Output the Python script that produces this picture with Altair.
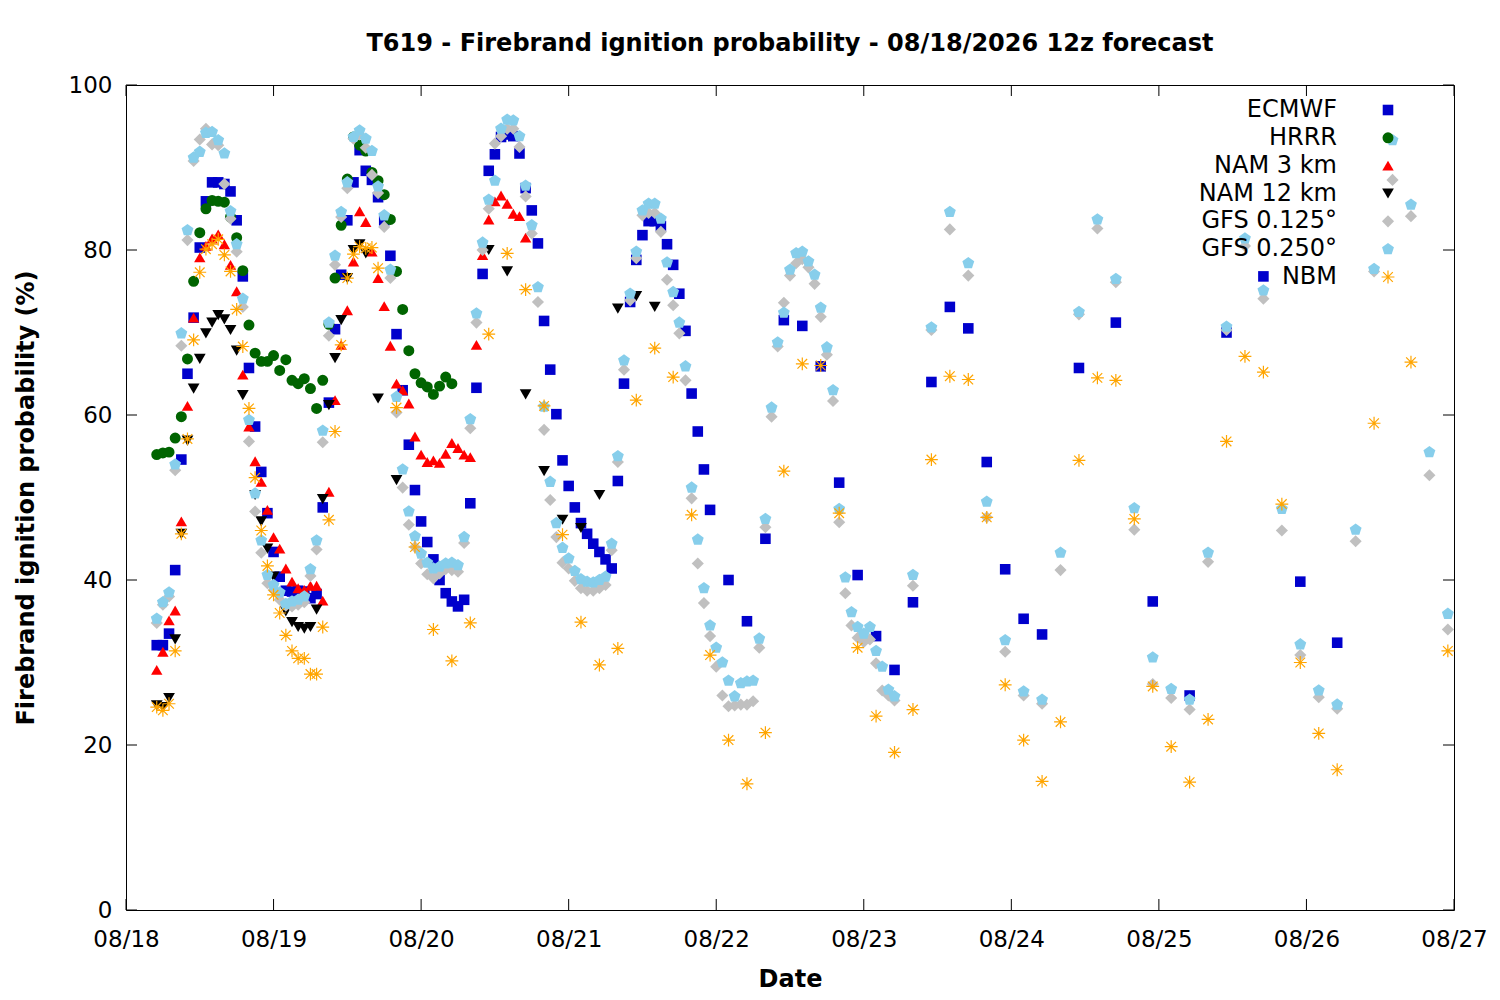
import altair as alt
import pandas as pd

MODELS = ["ECMWF", "HRRR", "NAM 3 km", "NAM 12 km", "GFS 0.125°", "GFS 0.250°", "NBM"]
COLORS = ["#0000CC", "#006400", "#FF0000", "#000000", "#C0C0C0", "#87CEEB", "#FFA500"]

# ---- data (hours after 08/18 00:00 local, probability %) ----
ecmwf_hours = list(range(5, 96)) + list(range(98, 150, 3)) + list(range(155, 198, 6))
ecmwf_vals = [
    32.1, 32.1, 33.5, 41.2, 54.6, 65.0, 71.8, 80.3, 85.9, 88.2,
    88.2, 88.0, 87.1, 83.6, 76.8, 65.7, 58.6, 53.1, 48.1, 43.4,
    40.4, 38.7, 38.6, 38.7, 38.6, 37.8, 38.3, 48.8, 61.5, 70.4,
    77.0, 83.6, 88.2, 92.1, 89.6, 88.5, 86.4, 83.6, 79.3, 69.8,
    63.0, 56.4, 50.9, 47.1, 44.6, 42.5, 40.0, 38.4, 37.4, 36.8,
    37.6, 49.3, 63.3, 77.1, 89.6, 91.6, 93.7, 94.0, 93.8, 91.7,
    87.5, 84.8, 80.8, 71.4, 65.5, 60.1, 54.5, 51.4, 48.8, 46.9,
    45.6, 44.4, 43.4, 42.5, 41.4, 52.0, 63.8, 73.7, 78.8, 81.8,
    83.5, 83.5, 82.9, 80.7, 78.2, 74.7, 70.2, 62.6, 58.0, 53.4,
    48.5,
    40.0, 35.0, 45.0, 71.5, 70.8, 65.9, 51.8, 40.6, 33.2, 29.1,
    37.3, 64.0, 73.1, 70.5, 54.3, 41.3, 35.3, 33.4,
    65.7, 71.2, 37.4, 26.0, 70.0, 76.8, 39.8, 32.4,
]

hrrr_hours = list(range(5, 54))
hrrr_vals = [
    55.2, 55.4, 55.5, 57.2, 59.8, 66.8, 76.2, 82.1, 85.0, 86.0,
    85.9, 85.8, 84.0, 81.5, 77.5, 70.9, 67.5, 66.5, 66.5, 67.2,
    65.4, 66.7, 64.2, 63.8, 64.4, 63.2, 60.8, 64.2, 71.0, 76.6,
    83.0, 88.6, 93.7, 92.7, 92.0, 89.4, 88.4, 86.7, 83.7, 77.4,
    72.8, 67.8, 65.0, 63.9, 63.4, 62.5, 63.5, 64.6, 63.8,
]

nam3_hours = list(range(5, 66))
nam3_vals = [
    29.1, 31.3, 35.1, 36.3, 47.1, 61.1, 71.8, 79.1, 80.5, 81.4,
    81.9, 80.7, 78.2, 75.0, 64.9, 58.6, 54.4, 51.9, 48.5, 45.2,
    43.8, 41.4, 39.8, 39.0, 38.8, 39.3, 39.3, 37.5, 50.7, 61.8,
    68.5, 72.7, 78.6, 84.7, 83.4, 79.8, 76.6, 73.2, 68.4, 63.8,
    63.0, 61.4, 57.4, 55.2, 54.3, 54.5, 54.2, 55.3, 56.6, 56.0,
    55.2, 54.9, 68.5, 79.4, 83.7, 85.9, 86.6, 85.6, 84.4, 84.1,
    81.5,
]

nam12_hours = [5, 6, 7, 8, 9, 10, 11, 12, 13, 14, 15, 16, 17, 18, 19,
               21, 22, 23, 24, 26, 27, 28, 29, 30, 31, 32, 33, 34, 35,
               36, 37, 38, 39, 41, 44, 59, 62, 65, 68, 71, 74, 77, 80, 83, 86]
nam12_vals = [24.8, 24.6, 25.7, 32.8, 45.6, 56.9, 63.2, 66.8, 69.9, 71.2,
              72.1, 71.6, 70.3, 67.8, 62.4,
              50.3, 47.1, 43.8, 40.4, 36.2, 34.9, 34.3, 34.1, 34.3, 36.4,
              49.8, 61.2, 66.9, 71.5, 76.6, 80.0, 80.7, 79.6, 62.0, 52.1,
              80.0, 77.4, 62.5, 53.2, 47.3, 46.3, 50.3, 72.9, 74.4, 73.1]

gfs_hours = list(range(5, 126)) + list(range(128, 216, 3))
gfs125_vals = [
    34.8, 37.0, 38.0, 53.3, 68.4, 81.2, 90.8, 93.4, 94.7, 92.8,
    92.7, 88.0, 83.8, 79.8, 73.1, 56.8, 48.3, 43.3, 39.6, 38.8,
    37.6, 36.9, 36.8, 37.0, 37.3, 40.5, 43.7, 56.7, 69.6, 78.2,
    84.0, 87.5, 93.5, 94.0, 92.4, 89.1, 86.9, 82.8, 76.6, 60.3,
    51.2, 46.7, 44.0, 42.0, 40.7, 40.2, 40.8, 41.3, 41.2, 41.0,
    44.5, 58.4, 71.2, 80.0, 85.0, 92.9, 93.8, 94.7, 94.7, 92.5,
    86.5, 82.0, 73.7, 58.2, 49.7, 45.2, 42.1, 41.4, 39.9, 39.0,
    38.7, 38.7, 39.0, 39.4, 43.6, 54.3, 65.5, 73.9, 79.0, 84.2,
    84.5, 84.5, 82.2, 76.4, 73.3, 69.9, 64.2, 49.9, 42.0, 37.2,
    33.2, 29.5, 26.0, 24.7, 24.8, 24.9, 24.9, 25.3, 31.8, 46.4,
    59.8, 68.3, 73.6, 76.9, 78.4, 78.9, 77.9, 75.9, 71.9, 67.3,
    61.7, 47.0, 38.4, 34.5, 33.0, 32.5, 32.8, 29.9, 26.6, 26.0,
    25.4,
    39.3, 70.3, 82.5, 76.9, 47.6, 31.3, 26.0, 25.0, 41.2, 72.2,
    82.6, 76.1, 46.1, 27.4, 25.7, 24.3, 42.2, 70.3, 80.5, 74.1,
    46.0, 30.9, 25.8, 24.4, 44.7, 77.4, 88.5, 84.1, 52.7, 34.0,
]
gfs250_vals = [
    35.3, 37.3, 38.5, 54.0, 69.9, 82.4, 91.2, 91.9, 94.2, 94.3,
    93.3, 91.7, 84.7, 80.7, 74.1, 59.4, 50.5, 44.8, 40.6, 39.4,
    38.5, 37.1, 37.4, 37.6, 38.0, 41.3, 44.8, 58.1, 71.2, 79.3,
    84.6, 88.2, 93.7, 94.5, 93.5, 92.0, 87.7, 84.2, 77.6, 62.2,
    53.4, 48.3, 45.3, 43.2, 42.1, 41.4, 41.6, 42.0, 42.1, 41.8,
    45.2, 59.5, 72.3, 80.9, 86.1, 88.4, 94.7, 95.8, 95.7, 93.8,
    87.8, 83.0, 75.5, 61.0, 51.9, 46.9, 43.9, 42.6, 41.1, 40.1,
    39.8, 39.7, 40.0, 40.4, 44.4, 55.0, 66.6, 74.7, 79.8, 84.8,
    85.6, 85.6, 83.8, 78.5, 74.9, 71.2, 65.9, 51.2, 44.9, 39.0,
    34.5, 31.8, 30.0, 27.8, 25.9, 27.5, 27.7, 27.8, 32.9, 47.4,
    60.9, 68.8, 72.4, 77.6, 79.6, 79.8, 78.6, 77.0, 73.0, 68.2,
    63.0, 48.6, 40.3, 36.1, 34.3, 33.5, 34.3, 31.4, 29.5, 26.7,
    25.9,
    40.6, 70.6, 84.6, 78.4, 49.5, 32.7, 26.5, 25.5, 43.3, 72.5,
    83.7, 76.5, 48.7, 30.6, 26.8, 25.5, 43.3, 70.7, 81.4, 75.1,
    48.6, 32.2, 26.6, 24.9, 46.1, 77.7, 93.3, 85.5, 55.5, 35.9,
]

nbm_hours = list(range(5, 42)) + list(range(44, 198, 3)) + [203, 209, 215]
nbm_vals = [
    24.6, 24.2, 25.0, 31.4, 45.6, 57.1, 69.1, 77.3, 80.1, 80.7,
    81.3, 79.4, 77.4, 72.8, 68.3, 60.8, 52.4, 46.0, 41.7, 38.2,
    36.0, 33.3, 31.4, 30.5, 30.5, 28.6, 28.6, 34.3, 47.3, 58.0,
    68.5, 76.6, 79.5, 80.4, 80.2, 80.3, 77.8,
    60.9, 44.0, 34.0, 30.2, 34.8, 69.8, 79.6, 75.2, 61.1, 45.5,
    34.9, 29.7, 31.7, 61.8, 68.1, 64.6, 47.9, 30.9, 20.6, 15.3,
    21.5, 53.2, 66.2, 66.0, 48.1, 31.8, 23.5, 19.1, 24.3, 54.6,
    64.7, 64.3, 47.6, 27.3, 20.6, 15.6, 22.8, 54.5, 64.5, 64.2,
    47.4, 27.1, 19.8, 15.5, 23.1, 56.8, 67.1, 65.2, 49.2, 30.0,
    21.4, 17.0,
    59.0, 66.4, 31.4,
]

Y_TICKS = [0, 20, 40, 60, 80, 100]
X_TICK_DAYS = list(range(18, 28))

# ---- build table ----
base = pd.Timestamp("2026-08-18 00:00")


def make(name, hours, vals):
    assert len(hours) == len(vals), (name, len(hours), len(vals))
    return pd.DataFrame({
        "time": [(base + pd.Timedelta(hours=h)).strftime("%Y-%m-%dT%H:%M:%S") for h in hours],
        "prob": vals,
        "model": name,
    })


df_filled = pd.concat([
    make("ECMWF", ecmwf_hours, ecmwf_vals),
    make("HRRR", hrrr_hours, hrrr_vals),
    make("NAM 3 km", nam3_hours, nam3_vals),
    make("NAM 12 km", nam12_hours, nam12_vals),
    make("GFS 0.125°", gfs_hours, gfs125_vals),
    make("GFS 0.250°", gfs_hours, gfs250_vals),
], ignore_index=True)
df_nbm = make("NBM", nbm_hours, nbm_vals)

key_filled_df = pd.DataFrame({"model": MODELS[:-1]})
key_nbm_df = pd.DataFrame({"model": MODELS[-1:]})
key_all_df = pd.DataFrame({"model": MODELS})

# ---- marker shapes ----
pentagon = "M0,-1L0.951,-0.309L0.588,0.809L-0.588,0.809L-0.951,-0.309Z"
asterisk = ("M0,-1L0,1M-1,0L1,0M-0.75,-0.75L0.75,0.75M-0.75,0.75L0.75,-0.75")
SHAPES = ["square", "circle", "triangle-up", "triangle-down", "diamond", pentagon, asterisk]
SIZES = [112, 165, 175, 175, 140, 190, 180]

W, H = 1328, 825
FONT = "DejaVu Sans"
TICK = 11

x_scale = alt.Scale(domain=[alt.DateTime(year=2026, month=8, date=18),
                            alt.DateTime(year=2026, month=8, date=27)], nice=False)
y_scale = alt.Scale(domain=[0, 100], nice=False)

x_axis = alt.Axis(values=[alt.DateTime(year=2026, month=8, date=d) for d in X_TICK_DAYS],
                  format="%m/%d", title="Date", labelPadding=18, titlePadding=16,
                  labelFlush=False, labelOverlap=False)
y_axis = alt.Axis(values=Y_TICKS, title="Firebrand ignition probability (%)",
                  labelPadding=14, titlePadding=30)

color_enc = alt.Color("model:N", scale=alt.Scale(domain=MODELS, range=COLORS), legend=None)
shape_enc = alt.Shape("model:N", scale=alt.Scale(domain=MODELS, range=SHAPES), legend=None)
size_enc = alt.Size("model:N", scale=alt.Scale(domain=MODELS, range=SIZES), legend=None)

points = alt.Chart(df_filled).mark_point(filled=True, opacity=1, strokeWidth=0).encode(
    x=alt.X("time:T", scale=x_scale, axis=x_axis),
    y=alt.Y("prob:Q", scale=y_scale, axis=y_axis),
    color=color_enc, shape=shape_enc, size=size_enc,
)
nbm_points = alt.Chart(df_nbm).mark_point(filled=False, opacity=1, strokeWidth=1.2).encode(
    x=alt.X("time:T", scale=x_scale, axis=x_axis),
    y=alt.Y("prob:Q", scale=y_scale, axis=None),
    color=color_enc, shape=shape_enc, size=size_enc,
)

ytick_df = pd.DataFrame({"v": Y_TICKS})
xtick_df = pd.DataFrame({"d": [f"2026-08-{d:02d}T00:00:00" for d in X_TICK_DAYS]})

left_ticks = alt.Chart(ytick_df).mark_rule(color="black", strokeWidth=1).encode(
    y=alt.Y("v:Q", scale=y_scale, axis=None), x=alt.value(0), x2=alt.value(TICK))
right_ticks = alt.Chart(ytick_df).mark_rule(color="black", strokeWidth=1).encode(
    y=alt.Y("v:Q", scale=y_scale, axis=None), x=alt.value(W - TICK), x2=alt.value(W))
bottom_ticks = alt.Chart(xtick_df).mark_rule(color="black", strokeWidth=1).encode(
    x=alt.X("d:T", scale=x_scale, axis=x_axis), y=alt.value(H - TICK), y2=alt.value(H))
top_ticks = alt.Chart(xtick_df).mark_rule(color="black", strokeWidth=1).encode(
    x=alt.X("d:T", scale=x_scale, axis=x_axis), y=alt.value(0), y2=alt.value(TICK))

# ---- key (gnuplot style: label right-aligned, sample to the right) ----
key_y = alt.Y("model:N", scale=alt.Scale(domain=MODELS, range=[25, 192], padding=0), axis=None)
key_symbols = alt.Chart(key_filled_df).mark_point(filled=True, opacity=1, strokeWidth=0).encode(
    x=alt.value(1262), y=key_y, color=color_enc, shape=shape_enc, size=size_enc,
)
key_nbm = alt.Chart(key_nbm_df).mark_point(filled=False, opacity=1, strokeWidth=1.2).encode(
    x=alt.value(1262), y=key_y, color=color_enc, shape=shape_enc, size=size_enc,
)
key_labels = alt.Chart(key_all_df).mark_text(
    align="right", baseline="middle", font=FONT, fontSize=24, color="black"
).encode(x=alt.value(1211), y=key_y, text="model:N")

chart = alt.layer(
    points, nbm_points, left_ticks, right_ticks, bottom_ticks, top_ticks,
    key_symbols, key_nbm, key_labels
).resolve_scale(y="independent").properties(
    width=W, height=H,
    title=alt.Title("T619 - Firebrand ignition probability - 08/18/2026 12z forecast",
                    font=FONT, fontSize=24, fontWeight="bold", color="black",
                    anchor="middle", offset=18),
    autosize=alt.AutoSizeParams(type="none"),
    padding={"left": 118, "top": 77, "right": 38, "bottom": 82},
).configure_view(stroke="black", strokeWidth=1).configure_axis(
    domain=False, ticks=False, grid=False,
    labelFont=FONT, labelFontSize=23, labelColor="black",
    titleFont=FONT, titleFontSize=24, titleFontWeight="bold", titleColor="black",
)

chart.save("out.html", embed_options={"renderer": "svg", "actions": False})
